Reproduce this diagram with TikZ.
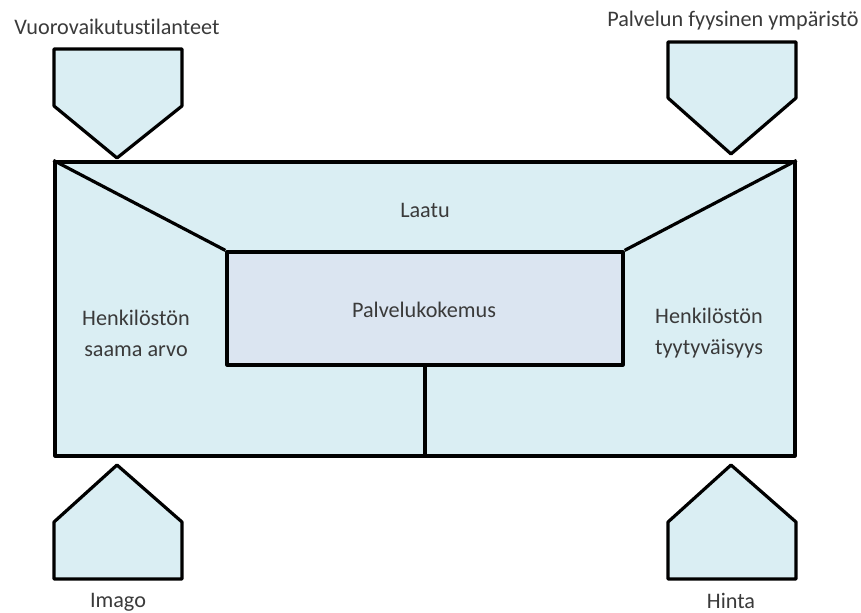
\documentclass[tikz,border=0pt]{standalone}
\usepackage{fontspec}
\setmainfont[Ligatures={NoCommon}]{Carlito}
\usepackage{tikz}
\usetikzlibrary{positioning}

\definecolor{aqua}{HTML}{DAEEF3}
\definecolor{lavender}{HTML}{DBE5F1}
\definecolor{ink}{HTML}{3A3A3A}

\tikzset{
    frame/.style={draw=black, line width=1.6pt, line join=round},
    outerbox/.style={frame, fill=aqua, minimum width=370pt, minimum height=147pt, inner sep=0pt},
    innerbox/.style={frame, fill=lavender, minimum width=198pt, minimum height=56.5pt, inner sep=0pt},
    pent/.style={frame, fill=aqua},
    txt/.style={text=ink, font=\fontsize{11.1}{13.5}\selectfont, align=center, inner sep=0pt}
}

\begin{document}
\begin{tikzpicture}[x=0.5pt, y=-0.5pt]
    \useasboundingbox (0,0) rectangle (861,613);

    % main box and centre box
    \node[outerbox] (ulko) at (425,309) {};
    \node[innerbox] (sisa) at (425,308.5) {};
    \node[txt] (kokemus) at (424,310) {Palvelukokemus};

    \draw[frame] (ulko.north west) -- (sisa.north west);
    \draw[frame] (ulko.north east) -- (sisa.north east);
    \draw[frame] (sisa.south) -- (ulko.south);

    \node[txt] (laatu) at (425,210) {Laatu};
    \node[txt] (arvo) at (136,333) {Henkilöstön\\[2pt]saama arvo};
    \node[txt] (tyyty) at (709,333) {Henkilöstön\\[2pt]tyytyväisyys};

    % arrows pointing down into the box
    \draw[pent] (54,49) -- (182,49) -- (182,106) -- (117,158) coordinate (vuoroK) -- (54,106) -- cycle;
    \draw[pent] (668,42) -- (796,42) -- (796,98) -- (731,154) coordinate (fyysK) -- (668,98) -- cycle;
    \coordinate (vuoroT) at (117,49);
    \coordinate (fyysT) at (859,42);
    \node[txt, above=7pt of vuoroT] (vuoro) {Vuorovaikutustilanteet};
    \node[txt, above left=6pt and 0pt of fyysT] (fyys) {Palvelun fyysinen ympäristö};

    % arrows pointing up
    \draw[pent] (117,465) coordinate (imagoK) -- (182,522) -- (182,579) -- (54,579) -- (54,522) -- cycle;
    \draw[pent] (731,465) coordinate (hintaK) -- (796,522) -- (796,579) -- (668,579) -- (668,522) -- cycle;
    \coordinate (imagoP) at (118,579);
    \coordinate (hintaP) at (731,579);
    \node[txt, below=7pt of imagoP] (imago) {Imago};
    \node[txt, below=7pt of hintaP] (hinta) {Hinta};
\end{tikzpicture}
\end{document}
